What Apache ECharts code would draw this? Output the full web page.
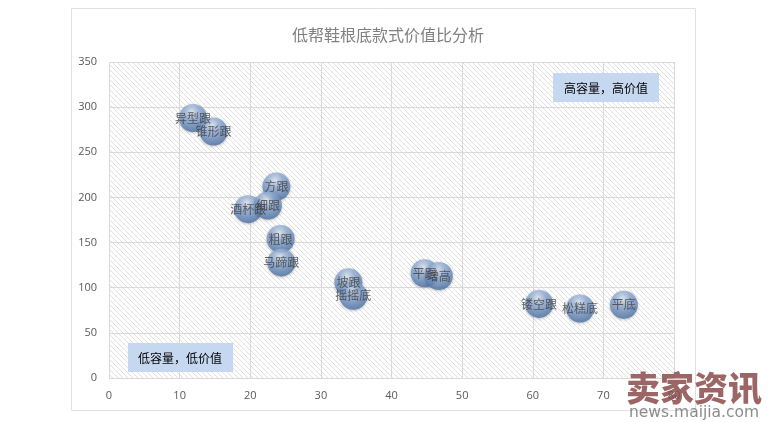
<!DOCTYPE html>
<html>
<head>
<meta charset="utf-8">
<script src="https://cdn.jsdelivr.net/npm/echarts@6/dist/echarts.min.js"></script>
<style>html,body{margin:0;padding:0;background:#fff;}#main{width:770px;height:422px;}</style>
</head>
<body>
<div id="main"></div>
<script>
var names = ['异型跟','锥形跟','方跟','酒杯跟','细跟','粗跟','马蹄跟','坡跟','摇摇底','平跟','增高','镂空跟','松糕底','平底'];
var xValues = [11.9, 14.8, 23.7, 19.7, 22.5, 24.3, 24.4, 33.9, 34.6, 44.7, 46.7, 60.9, 66.7, 72.9];
var yValues = [288, 273, 212, 187, 191, 154, 128, 106, 91, 116, 113, 82, 77, 81];
var xTicks = [0,10,20,30,40,50,60,70,80];
var yTicks = [0,50,100,150,200,250,300,350];

var data = names.map(function(n,i){ return {name:n, value:[xValues[i], yValues[i]]}; });

// hatch pattern
var pc = document.createElement('canvas');
pc.width = 5; pc.height = 5;
var ctx = pc.getContext('2d');
ctx.fillStyle = '#ffffff'; ctx.fillRect(0,0,5,5);
ctx.strokeStyle = '#e0e0e0'; ctx.lineWidth = 1;
ctx.beginPath();
ctx.moveTo(-1,-1); ctx.lineTo(6,6);
ctx.moveTo(-1,4); ctx.lineTo(1,6);
ctx.moveTo(4,-1); ctx.lineTo(6,1);
ctx.stroke();

var chart = echarts.init(document.getElementById('main'));
var cjk = '"Noto Sans CJK SC", sans-serif';
chart.setOption({
  backgroundColor: '#fff',
  animation: false,
  title: {
    text: '低帮鞋根底款式价值比分析',
    left: 383, top: 22, textAlign: 'center',
    textStyle: {fontFamily: cjk, fontSize: 16, fontWeight: 'normal', color: '#808080'}
  },
  grid: {
    left: 109, right: 96, top: 62, bottom: 44,
    show: true, borderWidth: 0,
    backgroundColor: {image: pc, repeat: 'repeat'}
  },
  xAxis: {
    type: 'value', min: xTicks[0], max: xTicks[xTicks.length-1], interval: 10,
    axisLine: {show: false}, axisTick: {show: false},
    axisLabel: {color: '#595959', fontSize: 11, margin: 12, fontFamily: 'Open Sans'},
    splitLine: {lineStyle: {color: '#d9d9d9', width: 1}}
  },
  yAxis: {
    type: 'value', min: yTicks[0], max: yTicks[yTicks.length-1], interval: 50,
    axisLine: {show: false}, axisTick: {show: false},
    axisLabel: {color: '#595959', fontSize: 11, margin: 12, fontFamily: 'Open Sans'},
    splitLine: {lineStyle: {color: '#d9d9d9', width: 1}}
  },
  graphic: [
    {type: 'rect', z: -10, shape: {x: 71.5, y: 8.5, width: 624, height: 402},
     style: {fill: 'none', stroke: '#e0e0e0', lineWidth: 1}},
    {type: 'rect', z: 10, shape: {x: 553, y: 73, width: 106, height: 29},
     style: {fill: '#c6d8f0'}},
    {type: 'text', z: 11, x: 606, y: 88,
     style: {text: '高容量，高价值', fill: '#000', font: '12px ' + cjk, textAlign: 'center', textVerticalAlign: 'middle'}},
    {type: 'rect', z: 10, shape: {x: 128, y: 343, width: 105, height: 29},
     style: {fill: '#c6d8f0'}},
    {type: 'text', z: 11, x: 180, y: 358,
     style: {text: '低容量，低价值', fill: '#000', font: '12px ' + cjk, textAlign: 'center', textVerticalAlign: 'middle'}},
    {type: 'text', z: 50, x: 626, y: 371,
     style: {text: '卖家资讯', fill: 'rgba(140,75,75,0.85)', font: '900 34px ' + cjk}},
    {type: 'text', z: 50, x: 629, y: 405,
     style: {text: 'news.maijia.com', fill: '#8c8c8c', font: '15.5px "DejaVu Sans"'}}
  ],
  series: [{
    type: 'scatter',
    data: data,
    symbolSize: 28,
    itemStyle: {
      color: {
        type: 'radial', x: 0.45, y: 0.28, r: 0.78,
        colorStops: [
          {offset: 0, color: '#e2eaf6'},
          {offset: 0.35, color: '#92aed7'},
          {offset: 0.8, color: '#5a7fb3'},
          {offset: 1, color: '#456795'}
        ]
      },
      shadowBlur: 3, shadowColor: 'rgba(0,0,0,0.3)', shadowOffsetY: 1
    },
    label: {
      show: true, position: 'inside', formatter: '{b}',
      color: '#404040', fontSize: 12, fontFamily: cjk
    }
  }]
});
</script>
</body>
</html>
